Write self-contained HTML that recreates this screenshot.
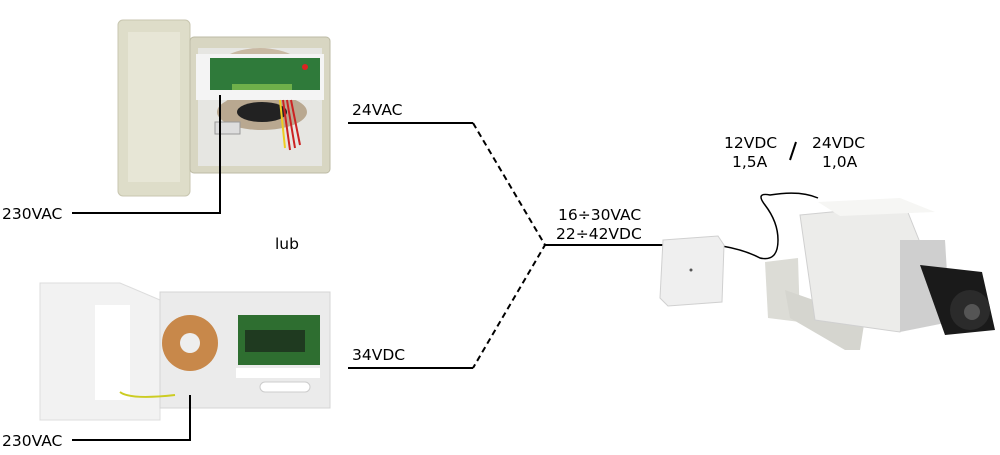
<!DOCTYPE html>
<html><head><style>
body{margin:0;background:#fff;}
svg{display:block;font-family:"DejaVu Sans","Liberation Sans",sans-serif;}
</style></head><body>
<svg width="1000" height="455" viewBox="0 0 1000 455">
<!-- top enclosure -->
<rect x="118" y="20" width="72" height="176" rx="5" fill="#deddc9" stroke="#c8c6b0"/>
<rect x="128" y="32" width="52" height="150" fill="#e7e6d6"/>
<rect x="190" y="37" width="140" height="136" rx="4" fill="#d8d6c2" stroke="#bdbba5"/>
<rect x="198" y="48" width="124" height="118" fill="#e6e6e2"/>
<ellipse cx="260" cy="78" rx="50" ry="30" fill="#c9b9a3"/>
<ellipse cx="262" cy="112" rx="45" ry="18" fill="#b9a890"/>
<ellipse cx="262" cy="112" rx="25" ry="10" fill="#222"/>
<rect x="196" y="54" width="128" height="46" fill="#f4f4f4"/>
<rect x="210" y="58" width="110" height="32" fill="#2f7a3a"/>
<rect x="232" y="84" width="60" height="6" fill="#6fb04a"/>
<circle cx="305" cy="67" r="3" fill="#d22"/>
<rect x="215" y="122" width="25" height="12" fill="#ddd" stroke="#999"/>
<path d="M283,100 L290,150 M287,100 L295,148 M291,100 L300,145" stroke="#c22" stroke-width="2" fill="none"/>
<path d="M280,100 L285,148" stroke="#ec2" stroke-width="2"/>
<!-- bottom enclosure -->
<polygon points="40,283 120,283 160,300 160,420 40,420" fill="#f2f2f2" stroke="#ddd"/>
<rect x="95" y="305" width="35" height="95" fill="#fff"/>
<rect x="160" y="292" width="170" height="116" fill="#ebebeb" stroke="#d4d4d4"/>
<circle cx="190" cy="343" r="28" fill="#c8884a"/>
<circle cx="190" cy="343" r="10" fill="#eee"/>
<rect x="238" y="315" width="82" height="50" fill="#2e6e30"/>
<rect x="245" y="330" width="60" height="22" fill="#1f3a20"/>
<rect x="236" y="368" width="84" height="10" fill="#fff"/>
<rect x="260" y="382" width="50" height="10" rx="5" fill="#fff" stroke="#ccc"/>
<path d="M120,392 Q130,400 175,395" stroke="#cc2" stroke-width="2" fill="none"/>
<!-- lines -->
<g stroke="#000" stroke-width="2" fill="none">
<path d="M220,95 V213 H72"/>
<path d="M190,395 V440 H72"/>
<path d="M348,123 H473"/>
<path d="M348,368 H473"/>
<path d="M473,123 L545,245 L473,368" stroke-dasharray="6,4"/>
<path d="M545,245 H665"/>
<path d="M722,246 Q745,250 760,258 Q778,262 778,240 Q778,222 765,205 Q755,192 770,195 Q800,190 818,198" stroke-width="1.5"/>
<path d="M796,142 L790,160"/>
</g>
<!-- converter -->
<polygon points="663,240 718,236 724,245 722,302 668,306 660,298" fill="#efefef" stroke="#d0d0d0"/>
<circle cx="691" cy="270" r="1.5" fill="#555"/>
<!-- camera -->
<polygon points="765,262 798,258 800,322 768,318" fill="#dcdcd6"/>
<polygon points="785,290 865,318 860,350 845,350 790,318" fill="#d5d5cf"/>
<polygon points="800,215 905,205 925,255 900,332 815,320" fill="#ececea" stroke="#d0d0d0"/>
<polygon points="818,202 900,198 935,212 840,216" fill="#f6f6f4"/>
<polygon points="900,240 945,240 950,322 900,332" fill="#cfcfcf"/>
<polygon points="920,265 982,272 995,330 945,335" fill="#1a1a1a"/>
<circle cx="970" cy="310" r="20" fill="#2b2b2b"/>
<circle cx="972" cy="312" r="8" fill="#555"/>
<!-- labels -->
<g font-size="15.5" fill="#000">
<text x="352" y="115">24VAC</text>
<text x="352" y="360">34VDC</text>
<text x="2" y="219">230VAC</text>
<text x="2" y="446">230VAC</text>
<text x="275" y="249">lub</text>
<text x="558" y="220">16÷30VAC</text>
<text x="556" y="239">22÷42VDC</text>
<text x="724" y="148">12VDC</text>
<text x="732" y="167">1,5A</text>
<text x="812" y="148">24VDC</text>
<text x="822" y="167">1,0A</text>
</g>
</svg>
</body></html>
